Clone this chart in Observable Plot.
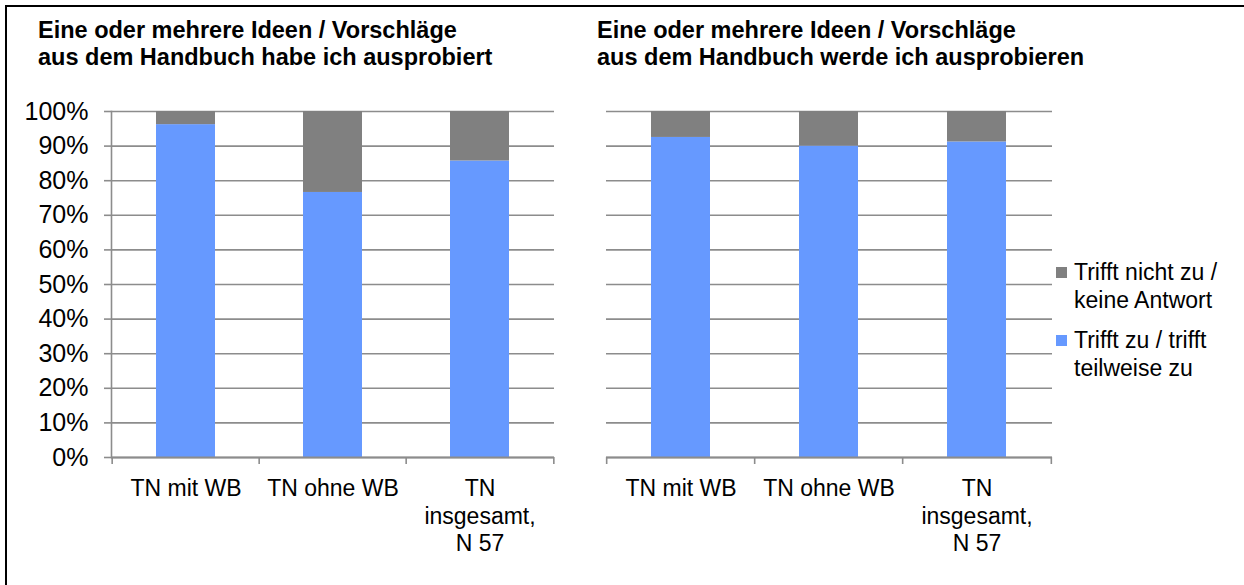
<!DOCTYPE html>
<html><head><meta charset="utf-8">
<script src="https://cdn.jsdelivr.net/npm/d3@7"></script>
<script src="https://cdn.jsdelivr.net/npm/@observablehq/plot@0.6"></script>
<style>
body{margin:0;background:#fff;}
#wrap{position:relative;width:1244px;height:585px;overflow:hidden;font-family:"Liberation Sans",Arial,sans-serif;color:#000;background:#fff;}
#frame{position:absolute;left:5px;top:5px;width:1400px;height:800px;border-left:2px solid #000;border-top:2px solid #000;}
.title{position:absolute;top:17px;font-weight:bold;font-size:23.5px;line-height:27px;white-space:nowrap;}
.chart{position:absolute;top:90px;}
#legend{position:absolute;left:1056px;top:258px;font-size:23px;line-height:28px;}
.item{position:relative;padding-left:18px;margin-bottom:12px;}
.sw{position:absolute;left:0;top:9px;width:11px;height:11px;}
</style></head>
<body>
<div id="wrap">
  <div id="frame"></div>
  <div class="title" id="t0" style="left:38px"></div>
  <div class="title" id="t1" style="left:597px"></div>
  <div class="chart" id="c0" style="left:0px"></div>
  <div class="chart" id="c1" style="left:580px"></div>
  <div id="legend"></div>
</div>
<script>
const categories = ["TN mit WB", "TN ohne WB", "TN insgesamt, N 57"];
const categoryLabels = ["TN mit WB", "TN ohne WB", "TN\ninsgesamt,\nN 57"];
const seriesNames = ["Trifft zu / trifft teilweise zu", "Trifft nicht zu / keine Antwort"];
const legendLabels = ["Trifft zu / trifft<br>teilweise zu", "Trifft nicht zu /<br>keine Antwort"];
const seriesColors = ["#6699FF", "#808080"];
const titles = [
  "Eine oder mehrere Ideen / Vorschläge<br>aus dem Handbuch habe ich ausprobiert",
  "Eine oder mehrere Ideen / Vorschläge<br>aus dem Handbuch werde ich ausprobieren"
];
const triedZu = [96.2, 76.6, 85.7];
const triedNicht = [3.8, 23.4, 14.3];
const willZu = [92.5, 90.0, 91.2];
const willNicht = [7.5, 10.0, 8.8];
const yTicks = [0, 10, 20, 30, 40, 50, 60, 70, 80, 90, 100];

const gridColor = "#8c8c8c";

function rows(zu, nicht) {
  return categories.flatMap((c, i) => [
    {cat: c, series: seriesNames[0], value: zu[i]},
    {cat: c, series: seriesNames[1], value: nicht[i]}
  ]);
}

function chart(data, o) {
  const step = (o.width - o.marginLeft - o.marginRight) / categories.length;
  const marks = [
    Plot.ruleY(yTicks, {stroke: gridColor, strokeWidth: 1.6}),
    Plot.barY(data, Plot.stackY({x: "cat", y: "value", fill: "series"})),
    Plot.ruleY([0], {stroke: gridColor, strokeWidth: 2}),
    Plot.ruleX(categories, {x: d => d, y1: 0, y2: 0, insetBottom: -7, dx: -step / 2, stroke: gridColor, strokeWidth: 1.6}),
    Plot.ruleX(categories.slice(-1), {x: d => d, y1: 0, y2: 0, insetBottom: -7, dx: step / 2, stroke: gridColor, strokeWidth: 1.6}),
    Plot.axisX({tickSize: 0, tickPadding: 19, fontSize: 23, lineHeight: 1.2, fill: "#000",
      tickFormat: d => categoryLabels[categories.indexOf(d)]})
  ];
  if (o.yAxis) {
    marks.push(Plot.axisY(yTicks, {tickSize: 7, tickPadding: 16, fontSize: 25, stroke: gridColor, strokeWidth: 1.6, fill: "#000",
      tickFormat: d => d + "%"}));
    marks.push(Plot.frame({anchor: "left", stroke: gridColor, strokeWidth: 1.6}));
  }
  return Plot.plot({
    width: o.width, height: 470,
    marginLeft: o.marginLeft, marginRight: o.marginRight, marginTop: 21, marginBottom: 103,
    style: {fontFamily: "'Liberation Sans', Arial, sans-serif", background: "transparent", overflow: "visible"},
    x: {domain: categories, paddingInner: 0.6, paddingOuter: 0.3, label: null},
    y: {domain: [0, 100], label: null, axis: o.yAxis ? undefined : null},
    color: {domain: seriesNames, range: seriesColors},
    marks
  });
}

document.getElementById("t0").innerHTML = titles[0];
document.getElementById("t1").innerHTML = titles[1];
document.getElementById("c0").appendChild(chart(rows(triedZu, triedNicht), {width: 580, marginLeft: 111, marginRight: 26, yAxis: true}));
document.getElementById("c1").appendChild(chart(rows(willZu, willNicht), {width: 500, marginLeft: 26, marginRight: 28, yAxis: false}));

const legend = document.getElementById("legend");
[1, 0].forEach(i => {
  const d = document.createElement("div");
  d.className = "item";
  d.innerHTML = `<span class="sw" style="background:${seriesColors[i]}"></span>${legendLabels[i]}`;
  legend.appendChild(d);
});
</script>
</body></html>
